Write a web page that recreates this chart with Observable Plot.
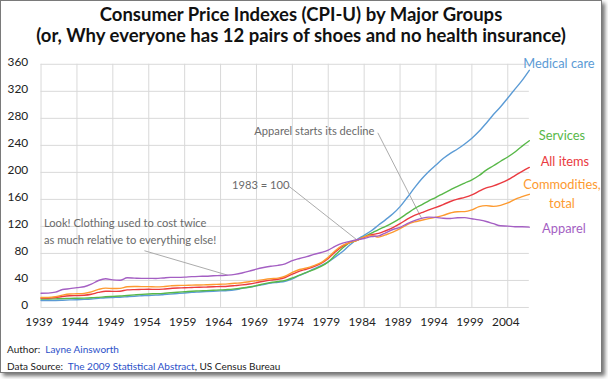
<!DOCTYPE html>
<html><head><meta charset="utf-8">
<script src="https://cdn.jsdelivr.net/npm/d3@7"></script>
<script src="https://cdn.jsdelivr.net/npm/@observablehq/plot@0.6"></script>
<style>
body{margin:0;background:#fff;font-family:Lato,"Open Sans",sans-serif;}
#frame{position:absolute;left:0;top:0;width:602px;height:373px;box-sizing:border-box;border:1px solid #7a7a7a;box-shadow:3px 3px 4px rgba(0,0,0,0.55);background:#fff;overflow:hidden}
#title{position:absolute;left:0;width:600px;top:3px;text-align:center;font-weight:bold;font-size:18.5px;line-height:21px;color:#111}
#chart{position:absolute;left:-1px;top:47px}
#foot{position:absolute;left:6px;top:340px;font-size:10px;line-height:17px;color:#222}
#foot span{color:#2b50c8}
</style></head><body>
<div id="frame">
<div id="title">Consumer Price Indexes (CPI-U) by Major Groups<br>(or, Why everyone has 12 pairs of shoes and no health insurance)</div>
<div id="chart"></div>
<div id="foot">Author:&nbsp; <span>Layne Ainsworth</span><br>Data Source:&nbsp; <span>The 2009 Statistical Abstract</span>, US Census Bureau</div>
</div>
<script>
const years = d3.range(1939, 2008);
const xTicks = [1939,1944,1949,1954,1959,1964,1969,1974,1979,1984,1989,1994,1999,2004];
const yTicks = [0,40,80,120,160,200,240,280,320,360];

const medicalCare = [10.3,10.4,10.4,10.7,11.2,11.5,11.9,12.5,13.5,14.4,14.8,15.1,15.9,16.7,17.3,17.8,18.2,18.9,19.7,20.6,21.5,22.3,22.9,23.5,24.1,24.6,25.2,26.3,28.2,29.9,31.9,34.0,36.1,37.3,38.8,42.4,47.5,52.0,57.0,61.8,67.5,74.9,82.9,92.5,100.6,106.8,113.5,122.0,130.1,138.6,149.3,162.8,177.0,190.1,201.4,211.0,220.5,228.2,234.6,242.1,250.6,260.8,272.8,285.6,297.1,310.1,323.2,336.2,351.1];
const services = [12.5,12.6,12.8,13.1,13.4,13.7,13.9,14.3,15.0,15.8,16.4,16.9,17.8,18.6,19.4,20.0,20.4,20.9,21.8,22.6,23.3,24.1,24.5,25.0,25.5,26.0,26.6,27.6,28.8,30.3,32.4,35.0,37.0,38.4,40.1,43.8,48.0,52.0,56.0,60.8,67.5,77.9,88.1,96.0,99.4,104.6,109.9,115.4,120.2,125.7,131.9,139.2,146.3,152.0,157.9,163.1,168.7,174.1,179.4,184.2,188.8,195.3,203.4,209.8,216.5,222.8,230.1,238.9,246.8];
const allItems = [13.9,14.0,14.7,16.3,17.3,17.6,18.0,19.5,22.3,24.1,23.8,24.1,26.0,26.5,26.7,26.9,26.8,27.2,28.1,28.9,29.1,29.6,29.9,30.2,30.6,31.0,31.5,32.4,33.4,34.8,36.7,38.8,40.5,41.8,44.4,49.3,53.8,56.9,60.6,65.2,72.6,82.4,90.9,96.5,99.6,103.9,107.6,109.6,113.6,118.3,124.0,130.7,136.2,140.3,144.5,148.2,152.4,156.9,160.5,163.0,166.6,172.2,177.1,179.9,184.0,188.9,195.3,201.6,207.3];
const commodities = [14.8,14.9,15.9,18.3,19.9,20.3,20.9,23.0,26.7,28.7,28.0,28.3,30.7,31.0,30.9,30.8,30.5,30.9,31.9,32.6,32.7,33.1,33.3,33.6,34.0,34.4,34.9,35.8,36.6,38.0,39.7,41.2,42.5,43.5,46.2,51.9,56.2,58.4,62.0,66.3,74.4,84.4,91.9,96.0,99.5,104.6,106.6,104.2,107.6,111.5,116.7,122.8,126.6,129.1,131.5,133.8,136.4,139.9,141.8,141.9,144.4,149.2,150.7,149.7,151.2,154.7,160.2,164.0,167.5];
const apparel = [21.0,21.3,22.6,26.6,27.8,29.4,30.6,34.4,39.9,42.5,40.8,40.3,43.9,43.5,43.1,43.1,42.9,43.7,44.5,44.6,45.0,45.7,46.1,46.3,46.9,47.3,47.8,49.0,51.0,53.7,56.8,59.2,61.1,62.3,64.6,69.4,72.5,75.2,78.6,81.4,84.9,90.9,95.3,97.8,100.2,102.1,105.0,105.9,110.6,115.4,118.6,124.1,128.7,131.9,133.7,133.4,132.0,131.7,132.9,133.0,131.3,129.6,127.3,124.0,120.9,120.4,119.5,119.5,119.0];

const seriesNames = ["Medical care","Services","All items","Commodities, total","Apparel"];
const seriesValues = [medicalCare, services, allItems, commodities, apparel];
const seriesLabels = ["Medical care","Services","All items","Commodities,\ntotal","Apparel"];
const seriesColors = ["#5b9bd5","#58b848","#ea3a40","#fd9a30","#a45fc3"];

const annotations = [
  {text:"Look! Clothing used to cost twice\nas much relative to everything else!", x:1939.4, y:115, fromX:1953.4, fromY:84, toX:1965, toY:47.8},
  {text:"1983 = 100", x:1965.6, y:183, fromX:1973.5, fromY:179.6, toX:1983, toY:100},
  {text:"Apparel starts its decline", x:1968.7, y:263, fromX:1985.9, fromY:258.6, toX:1992, toY:131.9}
];

const rows = [];
seriesNames.forEach((s, i) => years.forEach((yr, j) => rows.push({series: s, year: yr, value: seriesValues[i][j]})));

const labelOffsets = {"Medical care":[30,-8],"Services":[33,-7],"All items":[36,-8],"Commodities, total":[33,-2],"Apparel":[35,0]};

const marks = [
  Plot.gridY(yTicks, {stroke:"#d9d9d9", strokeOpacity:1}),
  Plot.gridX(xTicks, {stroke:"#d9d9d9", strokeOpacity:1}),
  Plot.axisY({ticks:yTicks, tickSize:0, tickPadding:13, dy:-2, fontSize:12, fill:"#222"}),
  Plot.axisX({ticks:xTicks, tickSize:0, tickPadding:10, dx:-2, fontSize:12, fill:"#222", tickFormat:d=>String(d)}),
  Plot.link(annotations, {x1:"fromX", y1:"fromY", x2:"toX", y2:"toY", stroke:"#aaa", strokeWidth:1}),
  Plot.text(annotations, {x:"x", y:"y", text:"text", textAnchor:"start", fontSize:11.3, fill:"#6a6a6a", lineHeight:1.5}),
  Plot.line(rows, {x:"year", y:"value", z:"series", stroke:"series", strokeWidth:1.4, curve:"monotone-x"})
];
seriesNames.forEach((s, i) => {
  const last = seriesValues[i].length - 1;
  marks.push(Plot.text([{x: years[last], y: seriesValues[i][last], t: seriesLabels[i]}], {
    x:"x", y:"y", text:"t", dx: labelOffsets[s][0], dy: labelOffsets[s][1],
    textAnchor:"middle", fontSize:13, fill: seriesColors[i], lineHeight:1.45
  }));
});

const chart = Plot.plot({
  width: 608, height: 292,
  marginLeft: 41, marginRight: 73, marginTop: 16, marginBottom: 30,
  style: {fontFamily: "Lato, 'Open Sans', sans-serif", background: "transparent"},
  x: {domain: [1939, 2007], axis: null},
  y: {domain: [0, 360], axis: null},
  color: {domain: seriesNames, range: seriesColors},
  marks
});
document.getElementById("chart").appendChild(chart);
</script>
</body></html>
